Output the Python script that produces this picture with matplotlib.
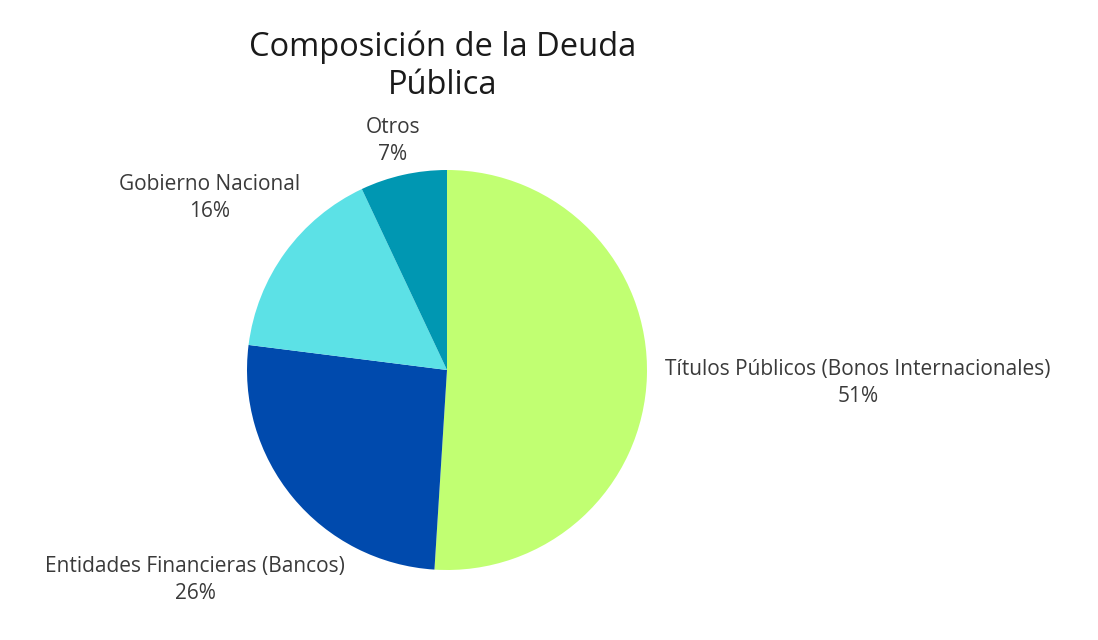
import matplotlib
matplotlib.use("Agg")
import matplotlib.pyplot as plt

plt.rcParams["font.family"] = ["Open Sans", "DejaVu Sans"]

categorias = [
    "Títulos Públicos (Bonos Internacionales)",
    "Entidades Financieras (Bancos)",
    "Gobierno Nacional",
    "Otros",
]
porcentajes = [51, 26, 16, 7]
colores = ["#C1FF72", "#004AAD", "#5CE1E6", "#0097B2"]

# posiciones de las etiquetas (centro del texto, en radios del pastel)
pos_etiquetas = [(2.055, -0.065), (-1.26, -1.05), (-1.185, 0.86), (-0.27, 1.145)]

fig = plt.figure(figsize=(10.98, 6.4), dpi=100)
ax = fig.add_axes([247 / 1098, 70 / 640, 400 / 1098, 400 / 640])
ax.pie(porcentajes, colors=colores, startangle=90, counterclock=False,
       radius=1, wedgeprops=dict(linewidth=0))
ax.set_xlim(-1, 1)
ax.set_ylim(-1, 1)
ax.set_aspect("equal")
ax.axis("off")

for nombre, valor, (x, y) in zip(categorias, porcentajes, pos_etiquetas):
    ax.text(x, y, f"{nombre}\n{valor}%", ha="center", va="center",
            fontsize=15, color="#3a3a3a", linespacing=1.35, clip_on=False)

fig.text(443 / 1098, 1 - 66 / 640, "Composición de la Deuda\nPública",
         ha="center", va="center", fontsize=23.5, color="#1a1a1a", linespacing=1.2)

fig.savefig("out.png", dpi=100, facecolor="white")
